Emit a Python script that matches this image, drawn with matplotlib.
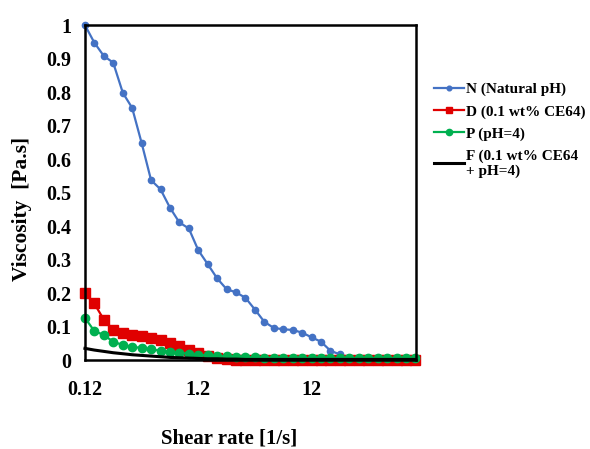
import matplotlib
matplotlib.use("Agg")
import matplotlib.pyplot as plt

plt.rcParams['font.family'] = ['Liberation Serif', 'DejaVu Serif']
plt.rcParams['font.weight'] = 'bold'

# Shear rate [1/s], 12 points per decade from 0.12
shear_rate = [0.120, 0.145, 0.176, 0.213, 0.259, 0.313, 0.379, 0.460, 0.557,
              0.675, 0.817, 0.990, 1.20, 1.45, 1.76, 2.13, 2.59, 3.13, 3.79,
              4.60, 5.57, 6.75, 8.17, 9.90, 12.0, 14.5, 17.6, 21.3, 25.9,
              31.3, 37.9, 46.0, 55.7, 67.5, 81.7, 99.0]

visc_N = [1.000, 0.948, 0.908, 0.888, 0.798, 0.753, 0.649, 0.537, 0.510,
          0.455, 0.411, 0.393, 0.328, 0.287, 0.244, 0.212, 0.202, 0.186,
          0.151, 0.114, 0.096, 0.092, 0.090, 0.082, 0.068, 0.055, 0.028,
          0.017, 0.006, 0.005, 0.005, 0.004, 0.004, 0.004, 0.004, 0.004]

visc_D = [0.199, 0.169, 0.121, 0.090, 0.080, 0.075, 0.072, 0.067, 0.060,
          0.052, 0.042, 0.030, 0.020, 0.012, 0.006, 0.003, 0.001, 0.000,
          0.000, 0.000, 0.000, 0.000, 0.000, 0.000, 0.000, 0.000, 0.000,
          0.000, 0.000, 0.000, 0.000, 0.000, 0.000, 0.000, 0.000, 0.000]

visc_P = [0.126, 0.087, 0.075, 0.055, 0.045, 0.040, 0.036, 0.032, 0.028,
          0.025, 0.022, 0.019, 0.016, 0.014, 0.012, 0.011, 0.010, 0.009,
          0.008, 0.007, 0.007, 0.006, 0.006, 0.006, 0.006, 0.006, 0.006,
          0.006, 0.006, 0.006, 0.006, 0.006, 0.006, 0.006, 0.006, 0.006]

visc_F = [0.035, 0.030, 0.026, 0.022, 0.019, 0.016, 0.014, 0.012, 0.010,
          0.008, 0.007, 0.006, 0.005, 0.004, 0.004, 0.003, 0.003, 0.002,
          0.002, 0.002, 0.002, 0.002, 0.002, 0.002, 0.002, 0.002, 0.002,
          0.002, 0.002, 0.002, 0.002, 0.002, 0.002, 0.002, 0.002, 0.002]

labels = ['N (Natural pH)', 'D (0.1 wt% CE64)', 'P (pH=4)',
          'F (0.1 wt% CE64\n+ pH=4)']
x_ticks = [0.12, 1.2, 12]
x_tick_labels = ['0.12', '1.2', '12']
y_ticks = [0, 0.1, 0.2, 0.3, 0.4, 0.5, 0.6, 0.7, 0.8, 0.9, 1]
y_tick_labels = ['0', '0.1', '0.2', '0.3', '0.4', '0.5', '0.6', '0.7', '0.8', '0.9', '1']

fig = plt.figure(figsize=(5.9, 4.49), dpi=100)
ax = fig.add_axes([0.144, 0.198, 0.561, 0.746])

ax.plot(shear_rate, visc_N, '-o', color='#4472C4', lw=1.6, ms=4.5,
        label=labels[0], clip_on=False)
ax.plot(shear_rate, visc_D, '-s', color='#E00000', lw=1.6, ms=6.5,
        label=labels[1], clip_on=False)
ax.plot(shear_rate, visc_P, '-o', color='#00B050', lw=1.6, ms=6,
        label=labels[2], clip_on=False)
ax.plot(shear_rate, visc_F, '-', color='black', lw=2.2,
        label=labels[3], clip_on=False)

ax.set_xscale('log')
ax.set_xlim(0.12, 100)
ax.set_ylim(0, 1)
ax.set_xticks(x_ticks)
ax.set_xticklabels(x_tick_labels)
ax.xaxis.set_minor_locator(matplotlib.ticker.NullLocator())
ax.set_yticks(y_ticks)
ax.set_yticklabels(y_tick_labels)
ax.tick_params(axis='both', length=0, labelsize=14.5)
ax.tick_params(axis='x', pad=14)
ax.tick_params(axis='y', pad=10)

for sp in ax.spines.values():
    sp.set_linewidth(1.8)
    sp.set_color('black')

ax.set_xlabel('Shear rate [1/s]', fontsize=15, fontweight='bold')
ax.xaxis.set_label_coords(0.435, -0.205)
ax.set_ylabel('Viscosity  [Pa.s]', fontsize=15.5, fontweight='bold')
ax.yaxis.set_label_coords(-0.16, 0.45)

fig.legend(loc='upper left', bbox_to_anchor=(0.725, 0.83), frameon=False,
           fontsize=11, handlelength=2.0, handletextpad=0.1,
           labelspacing=0.55, borderaxespad=0, markerscale=0.75)

fig.savefig('out.png', dpi=100)
